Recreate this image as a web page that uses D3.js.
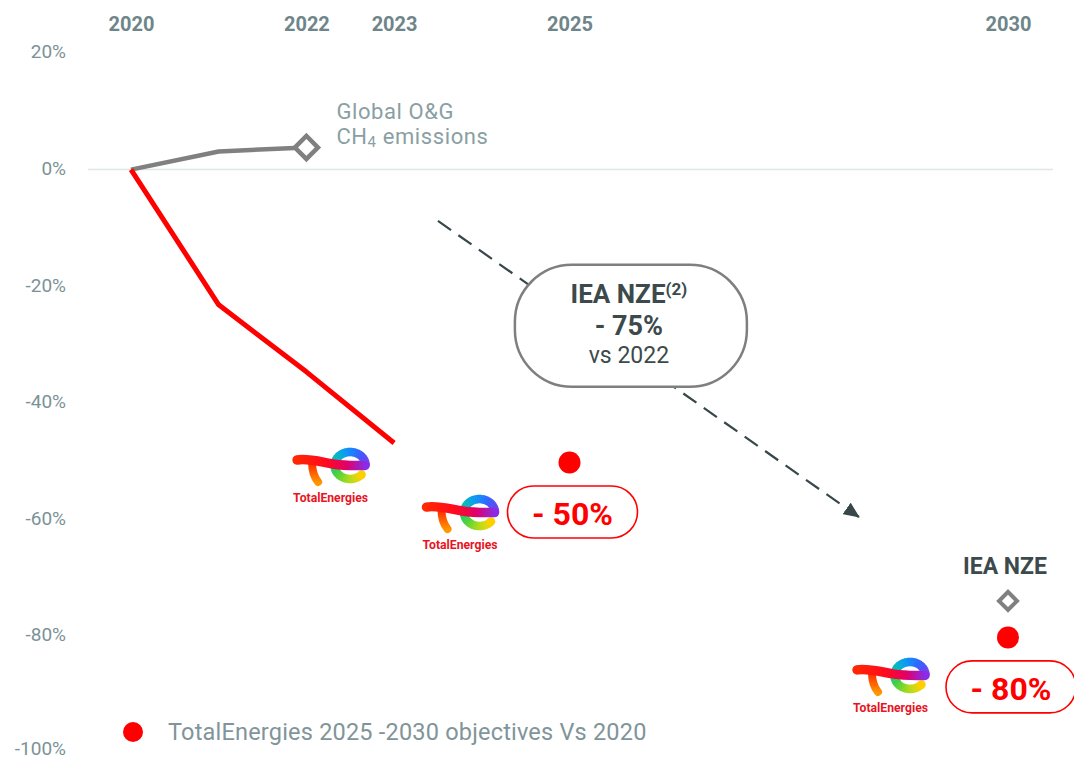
<!DOCTYPE html>
<html>
<head>
<meta charset="utf-8">
<script src="https://cdn.jsdelivr.net/npm/d3@7"></script>
<style>
  body { margin: 0; background: #fff; }
  svg { display: block; font-family: Roboto, "Noto Sans", sans-serif; }
</style>
</head>
<body>
<svg id="chart" width="1074" height="761"></svg>
<script>
// values
const yearTicks = [2020, 2022, 2023, 2025, 2030];
const pctTicks = [20, 0, -20, -40, -60, -80, -100];

// global O&G CH4 emissions vs 2020 (%)
const ogYears = [2020, 2021, 2022];
const ogValues = [0, 3.1, 3.8];

// TotalEnergies methane emissions vs 2020 (%)
const teYears = [2020, 2021, 2022, 2023];
const teValues = [0, -23.2, -34.7, -46.9];

// TotalEnergies objectives
const targetYears = [2025, 2030];
const targetValues = [-50, -80];
const targetLabels = ["- 50%", "- 80%"];

// IEA NZE 2030 point and trend arrow
const ieaYear = 2030;
const ieaValue = -74;
const trendYears = [2023.5, 2028.3];
const trendValues = [-8.8, -59.6];

const svg = d3.select("#chart");

const x = d3.scaleLinear().domain([2020, 2030]).range([131, 1008]);
const y = d3.scaleLinear().domain([-100, 20]).range([752.5, 53]);

const defs = svg.append("defs");

// logo gradients (user space of each logo group)
const barGrad = defs.append("linearGradient")
  .attr("id", "teBar").attr("gradientUnits", "userSpaceOnUse")
  .attr("x1", 0).attr("y1", 0).attr("x2", 72).attr("y2", 0);
[["0", "#ff2a00"], ["0.45", "#ff0a1e"], ["0.75", "#e0006a"], ["1", "#8a2be8"]]
  .forEach(s => barGrad.append("stop").attr("offset", s[0]).attr("stop-color", s[1]));

const stemGrad = defs.append("linearGradient")
  .attr("id", "teStem").attr("gradientUnits", "userSpaceOnUse")
  .attr("x1", 0).attr("y1", 14).attr("x2", 0).attr("y2", 35);
[["0", "#ff2200"], ["1", "#ff9800"]]
  .forEach(s => stemGrad.append("stop").attr("offset", s[0]).attr("stop-color", s[1]));

defs.append("marker")
  .attr("id", "arrow")
  .attr("viewBox", "0 -7 16 14")
  .attr("refX", 15).attr("refY", 0)
  .attr("markerWidth", 16).attr("markerHeight", 14)
  .attr("markerUnits", "userSpaceOnUse")
  .attr("orient", "auto")
  .append("path").attr("d", "M0,-7L16,0L0,7Z").attr("fill", "#37474a");

// zero line
svg.append("line")
  .attr("x1", 88).attr("x2", 1053)
  .attr("y1", y(0)).attr("y2", y(0))
  .attr("stroke", "#dfe6e7").attr("stroke-width", 1.5);

// y axis labels
const yAxis = svg.append("g")
  .attr("transform", "translate(66,0)")
  .call(d3.axisLeft(y).tickValues(pctTicks).tickSize(0).tickPadding(0)
    .tickFormat(d => d + "%"));
yAxis.select(".domain").remove();
yAxis.selectAll("text")
  .attr("dy", "0.26em")
  .attr("font-family", "Roboto").attr("font-size", 19).attr("fill", "#7b9296");
// bottom label sits on the page edge, lift it a touch
yAxis.selectAll(".tick").filter(d => d === -100).select("text").attr("y", -3);

// top year labels
const xAxis = svg.append("g")
  .attr("transform", "translate(0,31)")
  .call(d3.axisTop(x).tickValues(yearTicks).tickSize(0).tickPadding(0)
    .tickFormat(d3.format("d")));
xAxis.select(".domain").remove();
xAxis.selectAll("text")
  .attr("font-family", "Roboto").attr("font-size", 20)
  .attr("font-weight", "bold").attr("fill", "#6e8589");

const line = d3.line().x(d => x(d[0])).y(d => y(d[1]));

// IEA trend arrow (behind the callout)
svg.append("path")
  .datum(d3.zip(trendYears, trendValues))
  .attr("d", line)
  .attr("fill", "none")
  .attr("stroke", "#37474a").attr("stroke-width", 2.2)
  .attr("stroke-dasharray", "16,9")
  .attr("marker-end", "url(#arrow)");

// callout
const callout = svg.append("g")
  .attr("transform", `translate(${x(2025.7)},${y(-26.8)})`);
callout.append("rect")
  .attr("x", -116).attr("y", -61).attr("width", 232).attr("height", 122)
  .attr("rx", 57).attr("ry", 57)
  .attr("fill", "#fff").attr("stroke", "#7f7f7f").attr("stroke-width", 2.5);
const c1 = callout.append("text").attr("x", -2).attr("y", -23)
  .attr("text-anchor", "middle").attr("fill", "#3c4a4b");
c1.append("tspan").attr("font-size", 26).attr("font-weight", "bold").text("IEA NZE");
c1.append("tspan").attr("font-size", 17).attr("font-weight", "bold").attr("dy", -8).text("(2)");
callout.append("text").attr("x", -2).attr("y", 9)
  .attr("text-anchor", "middle").attr("fill", "#3c4a4b")
  .attr("font-size", 27).attr("font-weight", "bold").text("- 75%");
callout.append("text").attr("x", -2).attr("y", 37)
  .attr("text-anchor", "middle").attr("fill", "#3c4a4b")
  .attr("font-size", 23).text("vs 2022");

// global O&G line
svg.append("path")
  .datum(d3.zip(ogYears, ogValues))
  .attr("d", line)
  .attr("fill", "none").attr("stroke", "#808080")
  .attr("stroke-width", 4.5).attr("stroke-linejoin", "round");

svg.append("path")
  .attr("d", d3.symbol(d3.symbolSquare, 265)())
  .attr("transform", `translate(${x(ogYears[2])},${y(ogValues[2])}) rotate(45)`)
  .attr("fill", "#fff").attr("stroke", "#808080").attr("stroke-width", 4.5);

const ogLabel = svg.append("text")
  .attr("x", x(ogYears[2]) + 30).attr("y", y(ogValues[2]) - 28)
  .attr("font-size", 22).attr("letter-spacing", 0.6).attr("fill", "#8a9fa3");
ogLabel.append("tspan").text("Global O&G");
const ogLabel2 = svg.append("text")
  .attr("x", x(ogYears[2]) + 30).attr("y", y(ogValues[2]) - 3)
  .attr("font-size", 22).attr("letter-spacing", 0.6).attr("fill", "#8a9fa3");
ogLabel2.append("tspan").text("CH");
ogLabel2.append("tspan").attr("font-size", 15).attr("dy", 3).text("4");
ogLabel2.append("tspan").attr("dy", -3).text(" emissions");

// TotalEnergies line
svg.append("path")
  .datum(d3.zip(teYears, teValues))
  .attr("d", line)
  .attr("fill", "none").attr("stroke", "#ff0000")
  .attr("stroke-width", 5).attr("stroke-linejoin", "round");

// TotalEnergies logo
const ringColor = d3.interpolateRgbBasis(
  ["#8a36ee", "#2f5cff", "#0a9cff", "#00c2a8", "#35cf3c", "#b6df1c", "#ffd000"]);

function drawLogo(g) {
  const cx = 57, cy = 17.5, rx = 15.5, ry = 13.5, n = 48;
  const a1 = -318 * Math.PI / 180;
  for (let i = 0; i < n; i++) {
    const t0 = i / n, t1 = Math.min(1, (i + 1.3) / n);
    const p = d3.path();
    const steps = 4;
    for (let k = 0; k <= steps; k++) {
      const a = a1 * (t0 + (t1 - t0) * k / steps);
      const px = cx + rx * Math.cos(a), py = cy + ry * Math.sin(a);
      if (k === 0) p.moveTo(px, py); else p.lineTo(px, py);
    }
    g.append("path").attr("d", p.toString())
      .attr("fill", "none").attr("stroke", ringColor((i + 0.5) / n))
      .attr("stroke-width", 8.5);
  }
  g.append("circle")
    .attr("cx", cx + rx * Math.cos(a1)).attr("cy", cy + ry * Math.sin(a1))
    .attr("r", 4.25).attr("fill", ringColor(1));
  g.append("path")
    .attr("d", "M19,15 C19,24 21,29 25,34")
    .attr("fill", "none").attr("stroke", "url(#teStem)")
    .attr("stroke-width", 8).attr("stroke-linecap", "round");
  g.append("path")
    .attr("d", "M4,12 C14,10 28,14 40,16 S62,17.5 72,17.5")
    .attr("fill", "none").attr("stroke", "url(#teBar)")
    .attr("stroke-width", 9.5).attr("stroke-linecap", "round");
  g.append("text")
    .attr("x", 0).attr("y", 54)
    .attr("font-size", 12.5).attr("font-weight", "bold").attr("fill", "#e8141f")
    .attr("textLength", 75).attr("lengthAdjust", "spacingAndGlyphs")
    .text("TotalEnergies");
}

const last = teYears.length - 1;
const logoSpots = [
  [x(teYears[last]) - 101, y(teValues[last]) + 5],
  [x(targetYears[0]) - 147, y(targetValues[0]) + 34],
  [x(targetYears[1]) - 155, y(targetValues[1]) + 22]
];
logoSpots.forEach(s => drawLogo(svg.append("g").attr("transform", `translate(${s[0]},${s[1]})`)));

// objectives dots and pills
const targets = d3.zip(targetYears, targetValues, targetLabels);
svg.selectAll(".target-dot")
  .data(targets).enter().append("circle")
  .attr("class", "target-dot")
  .attr("cx", d => x(d[0])).attr("cy", d => y(d[1]) + 1.5)
  .attr("r", 11).attr("fill", "#ff0000");

const pill = svg.selectAll(".pill")
  .data(targets).enter().append("g")
  .attr("class", "pill")
  .attr("transform", d => `translate(${x(d[0]) + 3},${y(d[1]) + 51})`);
pill.append("rect")
  .attr("x", -65).attr("y", -26).attr("width", 130).attr("height", 52)
  .attr("rx", 26).attr("ry", 26)
  .attr("fill", "#fff").attr("stroke", "#ff0000").attr("stroke-width", 1.6);
pill.append("text")
  .attr("text-anchor", "middle").attr("y", 13)
  .attr("font-size", 32).attr("font-weight", "bold").attr("fill", "#ff0000")
  .text(d => d[2]);

// IEA NZE 2030 marker
svg.append("text")
  .attr("x", x(ieaYear) - 3).attr("y", y(ieaValue) - 27)
  .attr("text-anchor", "middle")
  .attr("font-size", 23).attr("font-weight", "bold").attr("fill", "#3c4a4b")
  .text("IEA NZE");
svg.append("path")
  .attr("d", d3.symbol(d3.symbolSquare, 162)())
  .attr("transform", `translate(${x(ieaYear)},${y(ieaValue)}) rotate(45)`)
  .attr("fill", "#fff").attr("stroke", "#808080").attr("stroke-width", 4);

// legend
svg.append("circle").attr("cx", 133).attr("cy", 732).attr("r", 10).attr("fill", "#ff0000");
svg.append("text")
  .attr("x", 168).attr("y", 740)
  .attr("font-size", 23.5).attr("letter-spacing", 0.2).attr("fill", "#7f9599")
  .text("TotalEnergies 2025 -2030 objectives Vs 2020");
</script>
</body>
</html>
